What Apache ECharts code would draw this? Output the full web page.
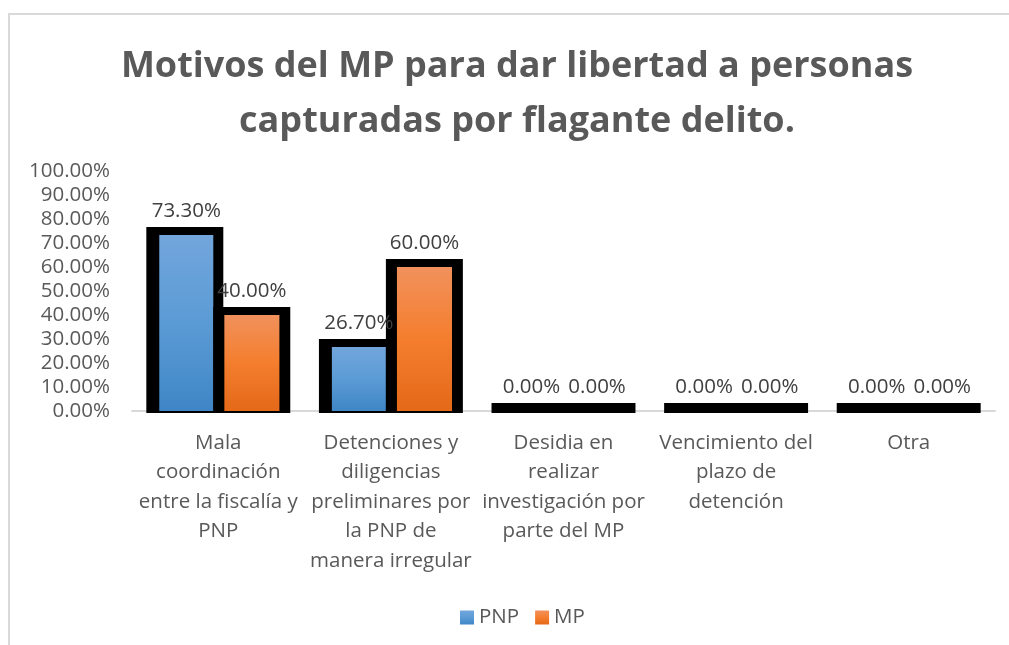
<!DOCTYPE html>
<html>
<head>
<meta charset="utf-8">
<script src="https://cdn.jsdelivr.net/npm/echarts@6/dist/echarts.min.js"></script>
<style>
html,body{margin:0;padding:0;background:#fff;}
#chart{width:1009px;height:645px;}
</style>
</head>
<body>
<div id="chart"></div>
<script>
var titleText = 'Motivos del MP para dar libertad a personas\ncapturadas por flagante delito.';
var categories = [
  'Mala\ncoordinación\nentre la fiscalía y\nPNP',
  'Detenciones y\ndiligencias\npreliminares por\nla PNP de\nmanera irregular',
  'Desidia en\nrealizar\ninvestigación por\nparte del MP',
  'Vencimiento del\nplazo de\ndetención',
  'Otra'
];
var seriesNames = ['PNP', 'MP'];
var pnpValues = [73.3, 26.7, 0, 0, 0];
var mpValues = [40.0, 60.0, 0, 0, 0];
var yMin = 0, yMax = 100, yInterval = 10;

var blueGrad = new echarts.graphic.LinearGradient(0, 0, 0, 1, [
  {offset: 0, color: '#72A6DC'}, {offset: 0.5, color: '#5B9BD5'}, {offset: 1, color: '#3F86C6'}
]);
var orangeGrad = new echarts.graphic.LinearGradient(0, 0, 0, 1, [
  {offset: 0, color: '#F1915C'}, {offset: 0.5, color: '#F47E2E'}, {offset: 1, color: '#E46919'}
]);

var FS = 20.5;
function fmt(v) { return v.toFixed(2) + '%'; }

// side: 0 = left bar (PNP), 1 = right bar (MP)
function makeRender(side, grad) {
  return function (params, api) {
    var cat = api.value(0), val = api.value(1);
    var base = api.coord([cat, 0]);
    var top = api.coord([cat, val]);
    var cw = api.size([1, 0])[0];
    var c = base[0];
    var fx0, fx1, bx0, bx1;
    if (side === 0) {
      fx0 = c - cw * 0.342; fx1 = c - cw * 0.029;
      bx0 = c - cw * 0.417; bx1 = c + cw * 0.029;
    } else {
      fx0 = c + cw * 0.035; fx1 = c + cw * 0.354;
      bx0 = c - cw * 0.029; bx1 = c + cw * 0.417;
    }
    var bt = top[1] - 8;
    var children = [
      {type: 'rect', shape: {x: bx0, y: bt, width: bx1 - bx0, height: base[1] + 2 - bt}, style: {fill: '#000'}}
    ];
    if (base[1] - top[1] > 0.5) {
      children.push({type: 'rect', shape: {x: fx0, y: top[1], width: fx1 - fx0, height: base[1] - top[1]}, style: {fill: grad}});
    }
    children.push({
      type: 'text',
      style: {
        text: fmt(val), x: (fx0 + fx1) / 2, y: bt - 16,
        align: 'center', verticalAlign: 'middle',
        fontSize: FS, fontFamily: 'Open Sans', fill: '#404040'
      },
      z2: 10
    });
    return {type: 'group', children: children};
  };
}

function toData(vals) { return vals.map(function (v, i) { return [i, v]; }); }

var chart = echarts.init(document.getElementById('chart'), null, {renderer: 'canvas'});
chart.setOption({
  backgroundColor: '#fff',
  animation: false,
  textStyle: {fontFamily: 'Open Sans'},
  graphic: [{
    type: 'rect', z: -10, silent: true,
    shape: {x: 9, y: 14, width: 1100, height: 700},
    style: {fill: 'none', stroke: '#d9d9d9', lineWidth: 2}
  }],
  title: {
    text: titleText,
    left: 512, top: 34, textAlign: 'center',
    textStyle: {fontFamily: 'Open Sans', fontWeight: 'bold', fontSize: 36, lineHeight: 55, color: '#595959'}
  },
  legend: {
    left: 455, top: 602,
    itemWidth: 14, itemHeight: 14, itemGap: 16,
    icon: 'rect',
    textStyle: {fontSize: FS, color: '#595959', fontFamily: 'Open Sans'},
    data: seriesNames
  },
  grid: {left: 132, right: 14, top: 171, bottom: 234, containLabel: false},
  xAxis: {
    type: 'category', data: categories,
    axisLine: {lineStyle: {color: '#d9d9d9', width: 2}},
    axisTick: {show: false},
    axisLabel: {interval: 0, fontSize: FS, lineHeight: 29.5, color: '#595959', margin: 17, fontFamily: 'Open Sans'}
  },
  yAxis: {
    type: 'value', min: yMin, max: yMax, interval: yInterval,
    axisLine: {show: false}, axisTick: {show: false},
    splitLine: {show: false},
    axisLabel: {formatter: function (v) { return fmt(v); }, fontSize: FS, color: '#595959', margin: 22, fontFamily: 'Open Sans'}
  },
  series: [
    {name: seriesNames[0], type: 'custom', itemStyle: {color: blueGrad}, renderItem: makeRender(0, blueGrad), data: toData(pnpValues), encode: {x: 0, y: 1}},
    {name: seriesNames[1], type: 'custom', itemStyle: {color: orangeGrad}, renderItem: makeRender(1, orangeGrad), data: toData(mpValues), encode: {x: 0, y: 1}}
  ]
});
</script>
</body>
</html>
